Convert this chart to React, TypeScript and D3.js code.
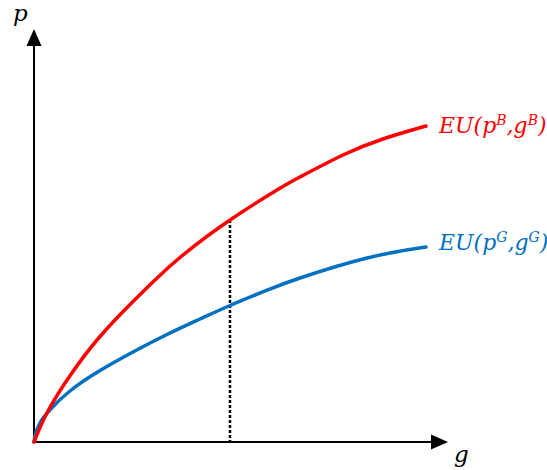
import React from 'react';
import * as d3 from 'd3';

// g values (x) and p values (y)
const redG = [0, 1.53, 4.08, 9.18, 16.84, 25.26, 30.87, 38.01, 50, 61.99, 67.86, 78.83, 89.03, 100];
const redP = [0, 4.6, 11.0, 21.0, 33.39, 44.46, 51.3, 59.18, 70.25, 79.75, 83.86, 90.82, 95.89, 100];
const blueG = [0, 0.38, 1.53, 4.08, 9.18, 16.84, 25.26, 33.93, 42.35, 50, 58.93, 67.86, 84.95, 100];
const blueP = [0, 2.53, 6.01, 10.2, 16.14, 22.6, 28.48, 34.02, 38.92, 43.2, 47.78, 51.9, 58.23, 61.71];
const dropG = 50;

const W = 547;
const H = 470;
const font = '"DejaVu Serif", serif';

const App = () => {
  const x = d3.scaleLinear().domain([0, 100]).range([34, 426]);
  const y = d3.scaleLinear().domain([0, 100]).range([442, 126]);

  const line = d3
    .line<[number, number]>()
    .x((d) => x(d[0]))
    .y((d) => y(d[1]))
    .curve(d3.curveNatural);

  const red = redG.map((g, i) => [g, redP[i]] as [number, number]);
  const blue = blueG.map((g, i) => [g, blueP[i]] as [number, number]);
  const dropP = redP[redG.indexOf(dropG)];

  const x0 = x(0);
  const y0 = y(0);
  const xEnd = 448;
  const yEnd = 29;

  const label = (txt: string, sup: string, color: string, ty: number) => (
    <text x={439} y={ty} fill={color} fontFamily={font} fontStyle="italic" fontSize={22}>
      {txt}(p
      <tspan fontSize={14} dy={-8}>{sup}</tspan>
      <tspan dy={8}>,g</tspan>
      <tspan fontSize={14} dy={-8}>{sup}</tspan>
      <tspan dy={8}>)</tspan>
    </text>
  );

  return (
    <svg width={W} height={H} style={{ position: 'absolute', left: 0, top: 0, background: '#fff' }}>
      {/* axes */}
      <line x1={x0} y1={y0} x2={xEnd - 12} y2={y0} stroke="#000" strokeWidth={2} />
      <line x1={x0} y1={y0} x2={x0} y2={yEnd + 12} stroke="#000" strokeWidth={2} />
      <path d={`M${xEnd},${y0} L${xEnd - 17},${y0 - 7.5} L${xEnd - 17},${y0 + 7.5} Z`} fill="#000" />
      <path d={`M${x0},${yEnd} L${x0 - 7.5},${yEnd + 17} L${x0 + 7.5},${yEnd + 17} Z`} fill="#000" />

      {/* dotted drop line */}
      <line
        x1={x(dropG)}
        y1={y(dropP)}
        x2={x(dropG)}
        y2={y0}
        stroke="#000"
        strokeWidth={2.5}
        strokeDasharray="3,2"
      />

      <path d={line(blue) || ''} fill="none" stroke="#0070C0" strokeWidth={3.5} strokeLinecap="round" />
      <path d={line(red) || ''} fill="none" stroke="#FF0000" strokeWidth={3.5} strokeLinecap="round" />

      {label('EU', 'B', '#FF0000', 133)}
      {label('EU', 'G', '#0070C0', 250)}

      <text x={13} y={21} fontFamily={font} fontStyle="italic" fontSize={23}>p</text>
      <text x={454} y={462} fontFamily={font} fontStyle="italic" fontSize={23}>g</text>
    </svg>
  );
};

export default App;
